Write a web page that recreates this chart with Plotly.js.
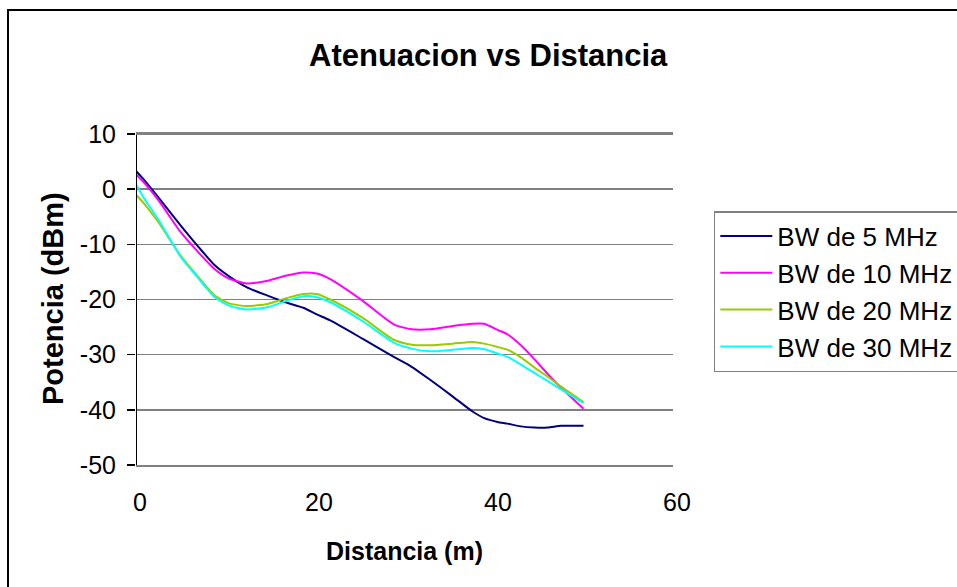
<!DOCTYPE html>
<html>
<head>
<meta charset="utf-8">
<script src="https://cdn.plot.ly/plotly-3.0.1.min.js"></script>
<style>
html,body{margin:0;padding:0;background:#fff;}
#frame{position:absolute;left:7px;top:9px;width:960px;height:600px;border:2px solid #000;box-sizing:border-box;}
#chart{position:absolute;left:0;top:0;width:957px;height:587px;}
</style>
</head>
<body>
<div id="frame"></div>
<div id="chart"></div>
<script>
const distancia = [0, 1, 2.5, 5, 7, 8.8, 10.4, 12.4, 14.7, 16.7, 18.7, 20.2, 21.7, 25.3, 28.8, 30.8, 32.9, 35.4, 37.6, 38.9, 40.4, 41.5, 43, 44.5, 46, 47.5, 50];
const bw5  = [3.3, 1.5, -1.5, -6.6, -10.5, -13.8, -15.8, -17.8, -19.3, -20.5, -21.5, -22.7, -23.8, -27.1, -30.4, -32.2, -34.6, -37.6, -40.3, -41.5, -42.2, -42.5, -43.0, -43.2, -43.2, -42.9, -42.9];
const bw10 = [2.7, 1.0, -2.0, -7.8, -11.5, -14.5, -16.2, -17.1, -16.6, -15.7, -15.1, -15.3, -16.3, -20.2, -24.5, -25.4, -25.4, -24.8, -24.4, -24.4, -25.5, -26.3, -28.3, -30.8, -33.5, -36.0, -39.8];
const bw20 = [-1.0, -2.8, -6.0, -12.1, -16.0, -19.3, -20.7, -21.2, -20.8, -19.8, -19.0, -19.0, -20.0, -23.3, -27.3, -28.2, -28.3, -28.0, -27.7, -28.0, -28.6, -29.1, -30.5, -32.3, -34.0, -35.8, -38.6];
const bw30 = [0.9, -1.9, -5.5, -12.3, -16.2, -19.6, -21.1, -21.8, -21.4, -20.3, -19.4, -19.6, -20.5, -23.9, -27.8, -28.9, -29.4, -29.1, -28.8, -29.0, -29.8, -30.4, -31.8, -33.3, -34.8, -36.3, -38.8];
const names = ["BW de 5 MHz", "BW de 10 MHz", "BW de 20 MHz", "BW de 30 MHz"];
const colors = ["#000080", "#ff00ff", "#99cc00", "#00ffff"];
const series = [bw5, bw10, bw20, bw30];
const xTicks = [0, 20, 40, 60];
const yTicks = [-50, -40, -30, -20, -10, 0, 10];
const chartTitle = "Atenuacion vs Distancia";
const xTitle = "Distancia (m)";
const yTitle = "Potencia (dBm)";

const font = "Liberation Sans, Arial, sans-serif";
const traces = series.map((s, i) => ({
  x: distancia, y: s, name: names[i], type: "scatter", mode: "lines",
  line: {color: colors[i], width: 2, shape: "spline", smoothing: 0.6}
}));

const layout = {
  width: 957, height: 587,
  paper_bgcolor: "rgba(0,0,0,0)", plot_bgcolor: "#fff",
  margin: {l: 136, r: 284, t: 134, b: 122, pad: 0, autoexpand: false},
  xaxis: {
    range: [0, 60], tickvals: xTicks, ticktext: xTicks.map(String),
    showgrid: false, zeroline: false, showline: true, linecolor: "#808080", linewidth: 2,
    mirror: true, ticks: "", ticklabelstandoff: 14, ticklabelshift: 4,
    tickfont: {family: font, size: 25, color: "#000"}
  },
  yaxis: {
    range: [-50, 10], tickvals: yTicks, ticktext: yTicks.map(String),
    showgrid: true, gridcolor: "#808080", gridwidth: 1.5, zeroline: false,
    showline: false, ticks: "outside", ticklen: 8, tickcolor: "#000", tickwidth: 1.5,
    ticklabelstandoff: 6,
    tickfont: {family: font, size: 25, color: "#000"}
  },
  annotations: [
    {text: "<b>" + chartTitle + "</b>", xref: "paper", yref: "paper", x: (488 - 136) / 537, y: (465 - 55) / 331,
     xanchor: "center", yanchor: "middle", showarrow: false, font: {family: font, size: 31, color: "#000"}},
    {text: "<b>" + xTitle + "</b>", xref: "paper", yref: "paper", x: (404 - 136) / 537, y: (465 - 551) / 331,
     xanchor: "center", yanchor: "middle", showarrow: false, font: {family: font, size: 25, color: "#000"}},
    {text: "<b>" + yTitle + "</b>", xref: "paper", yref: "paper", x: (53 - 136) / 537, y: (465 - 299) / 331,
     xanchor: "center", yanchor: "middle", textangle: -90, showarrow: false, font: {family: font, size: 29, color: "#000"}}
  ],
  shapes: [
    {type: "line", xref: "x", yref: "paper", x0: 0, x1: 0, y0: 0, y1: 1, line: {color: "#000", width: 2}},
    {type: "line", xref: "paper", yref: "paper", x0: 0, x1: 1, y0: 1, y1: 1, line: {color: "#808080", width: 2}}
  ],
  showlegend: true,
  legend: {
    x: 1.076, y: 0.767, xanchor: "left", yanchor: "top",
    bgcolor: "#fff", bordercolor: "#808080", borderwidth: 1.5,
    font: {family: font, size: 26, color: "#000"}, tracegroupgap: 0, itemwidth: 52
  }
};

Plotly.newPlot("chart", traces, layout, {displayModeBar: false, staticPlot: true});
</script>
</body>
</html>
